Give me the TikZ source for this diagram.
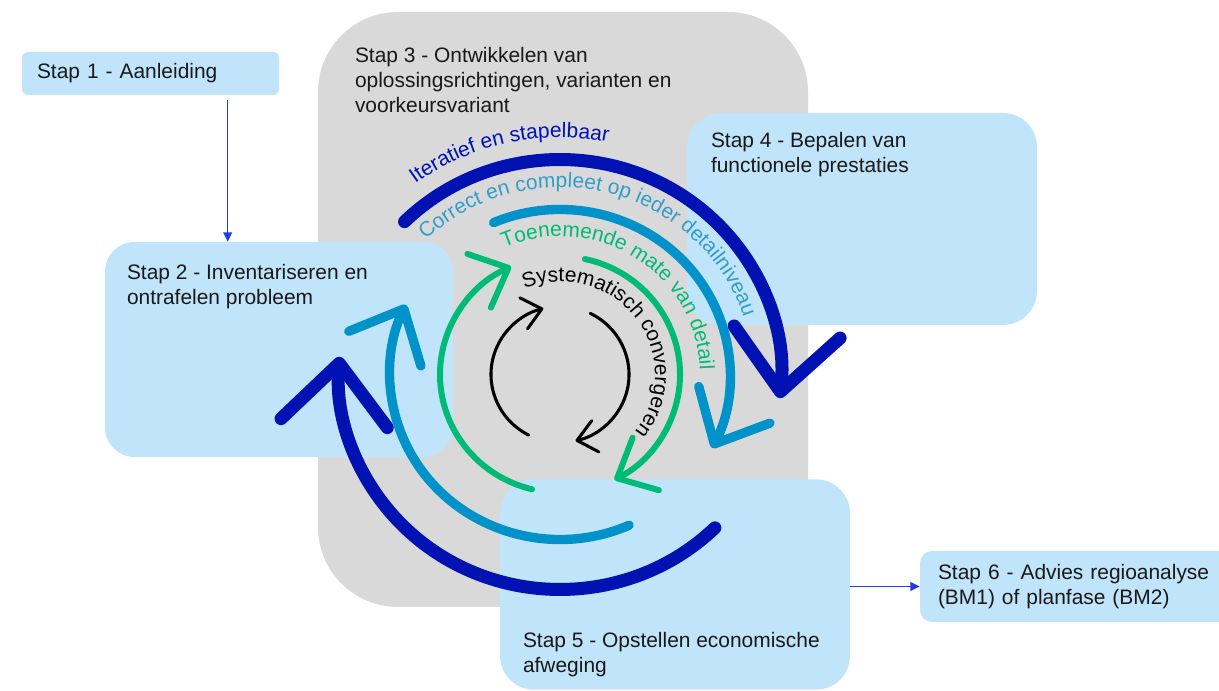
\documentclass[tikz,border=0pt]{standalone}
\usepackage{fontspec}
\setmainfont{Liberation Sans}
\usetikzlibrary{arrows.meta,decorations.text}

\definecolor{stapblue}{RGB}{192,228,250}
\definecolor{stapgrey}{RGB}{217,217,217}
\definecolor{iterblue}{RGB}{0,18,178}
\definecolor{corrblue}{RGB}{0,146,200}
\definecolor{corrtext}{RGB}{50,158,200}
\definecolor{toengreen}{RGB}{0,186,120}
\definecolor{linkblue}{RGB}{30,60,225}
\definecolor{txt}{RGB}{25,25,25}

\newcommand{\stapfont}{\fontsize{15.7pt}{18.75pt}\selectfont}
\newcommand{\arcfont}{\fontsize{15.7pt}{18pt}\selectfont}
\newcommand{\toptext}[3]{\parbox[c][#2][t]{#1}{\raggedright\rule{0pt}{12pt}#3}}
\newcommand{\bottext}[3]{\parbox[c][#2][b]{#1}{\raggedright\rule{0pt}{12pt}#3\rule[-4pt]{0pt}{4pt}}}

\begin{document}
\begin{tikzpicture}[x=0.75pt,y=0.75pt,
  stap/.style={fill=stapblue,text=txt,font=\stapfont},
  link/.style={draw=linkblue,line width=1.1pt,-{Triangle[length=7pt,width=6.5pt]}},
  iterarc/.style={draw=iterblue,line width=9.75pt,line cap=round,-{Straight Barb[length=45pt,width=80pt,round]}},
  corrarc/.style={draw=corrblue,line width=7pt,line cap=round,-{Straight Barb[length=33pt,width=60pt,round]}},
  toenarc/.style={draw=toengreen,line width=4.5pt,line cap=round,-{Straight Barb[length=24pt,width=44pt,round]}},
  sysarc/.style={draw=black,line width=2.3pt,line cap=round,-{Straight Barb[length=14pt,width=24pt,round]}}]
\clip (0,0) rectangle (1219,691);

% stappen
\node[stap,fill=stapgrey,rounded corners=60pt,inner xsep=27.75pt,inner ysep=26.25pt] (s3) at (563,381.5)
  {\toptext{312pt}{393.75pt}{Stap 3 - Ontwikkelen van\\oplossingsrichtingen, varianten en\\voorkeursvariant}};
\node[stap,rounded corners=4.5pt,minimum height=32.25pt,inner xsep=11.25pt,text width=170.25pt,align=left] (s1) at (150.5,617.5)
  {Stap 1 - Aanleiding};
\node[stap,rounded corners=22pt,inner sep=16.5pt] (s2) at (279,341.5)
  {\toptext{228pt}{128.25pt}{Stap 2 - Inventariseren en\\ontrafelen probleem}};
\node[stap,rounded corners=25.5pt,inner xsep=18pt,inner ysep=14.25pt] (s4) at (862,472)
  {\toptext{226.5pt}{130.5pt}{Stap 4 - Bepalen van\\functionele prestaties}};
\node[stap,rounded corners=25.5pt,inner xsep=17.25pt,inner ysep=8.75pt] (s5) at (675,106.5)
  {\bottext{228pt}{136.25pt}{Stap 5 - Opstellen economische\\afweging}};
\node[stap,rounded corners=9pt,minimum height=53.25pt,inner xsep=13.5pt,text width=209.25pt,align=left] (s6) at (1077.5,104.5)
  {Stap 6 - Advies regioanalyse\\(BM1) of planfase (BM2)};

\coordinate (a1) at ([xshift=154.5pt,yshift=-3.75pt]s1.south west);
\draw[link] (a1) -- (a1 |- s2.north);
\draw[link] (s5.east |- s6.west) -- (s6.west);

% cirkels
\coordinate (c) at (560,316.5);
\draw[iterarc] ([shift={(134.7:221 and 215)}]c) arc[start angle=134.7,end angle=-6.3,x radius=221,y radius=215];
\draw[iterarc] ([shift={(-45.5:221 and 215)}]c) arc[start angle=-45.5,end angle=-184.7,x radius=221,y radius=215];
\draw[corrarc] ([shift={(113:170 and 165)}]c) arc[start angle=113,end angle=-26.5,x radius=170,y radius=165];
\draw[corrarc] ([shift={(-66:170 and 165)}]c) arc[start angle=-66,end angle=-205,x radius=170,y radius=165];
\draw[toenarc] ([shift={(256.5:120 and 118)}]c) arc[start angle=256.5,end angle=114,x radius=120,y radius=118];
\draw[toenarc] ([shift={(78:120 and 118)}]c) arc[start angle=78,end angle=-63,x radius=120,y radius=118];
\draw[sysarc] ([shift={(243:69 and 68)}]c) arc[start angle=243,end angle=104,x radius=69,y radius=68];
\draw[sysarc] ([shift={(64:69 and 68)}]c) arc[start angle=64,end angle=-77,x radius=69,y radius=68];

% teksten langs de cirkels
\path[decorate,decoration={text along path,text color=iterblue,text={|\arcfont|Iteratief en stapelbaar}}]
  ([shift={(126.5:243 and 237)}]c) arc[start angle=126.5,end angle=40,x radius=243,y radius=237];
\path[decorate,decoration={text along path,text color=corrtext,text={|\arcfont|Correct en compleet op ieder detailniveau}}]
  ([shift={(134:193 and 187)}]c) arc[start angle=134,end angle=-10,x radius=193,y radius=187];
\path[decorate,decoration={text along path,text color=toengreen,text={|\arcfont|Toenemende mate van detail}}]
  ([shift={(113.5:140 and 138)}]c) arc[start angle=113.5,end angle=-30,x radius=140,y radius=138];
\path[decorate,decoration={text along path,text color=black,text={|\arcfont|Systematisch convergeren}}]
  ([shift={(112:95 and 93)}]c) arc[start angle=112,end angle=-80,x radius=95,y radius=93];
\end{tikzpicture}
\end{document}
